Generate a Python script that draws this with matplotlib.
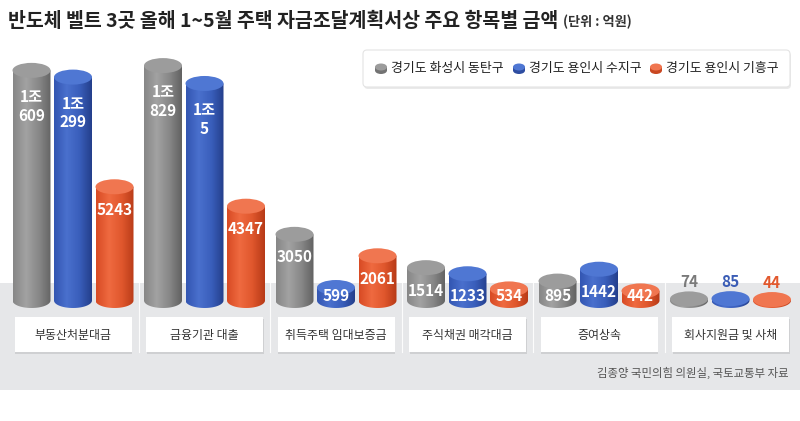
import numpy as np
import matplotlib
matplotlib.use('Agg')
import matplotlib.pyplot as plt
from matplotlib.patches import Ellipse, PathPatch, Rectangle, FancyBboxPatch
from matplotlib.path import Path
from matplotlib.colors import LinearSegmentedColormap

plt.rcParams['font.family'] = ['Noto Sans CJK KR', 'DejaVu Sans']

# data (단위: 억원)
title = '반도체 벨트 3곳 올해 1~5월 주택 자금조달계획서상 주요 항목별 금액'
unit = '(단위 : 억원)'
source = '김종양 국민의힘 의원실, 국토교통부 자료'
categories = ['부동산처분대금', '금융기관 대출', '취득주택 임대보증금',
              '주식채권 매각대금', '증여상속', '회사지원금 및 사채']
series_names = ['경기도 화성시 동탄구', '경기도 용인시 수지구', '경기도 용인시 기흥구']
dongtan = [10609, 10829, 3050, 1514, 895, 74]
suji = [10299, 10005, 599, 1233, 1442, 85]
giheung = [5243, 4347, 2061, 534, 442, 44]
series = [dongtan, suji, giheung]

# layout (pixels)
W, H = 800, 421
PX = 46.1       # 억원 per pixel
BASE = 300.5    # baseline, px from top
GAP = 131.5     # px between group centres
X0 = 73         # first group centre
BAR_W = 38 / GAP
STEP = 41.5 / GAP
ELL_H = 15 * PX

body_cmaps = [
    LinearSegmentedColormap.from_list('g', ['#878787', '#a2a2a2', '#888888', '#626262']),
    LinearSegmentedColormap.from_list('b', ['#3356b2', '#4a70cd', '#3a5fbc', '#243f8c']),
    LinearSegmentedColormap.from_list('o', ['#d84b24', '#ef6a40', '#e0572d', '#b73a17']),
]
top_colors = ['#9c9c9c', '#4f77d3', '#f07650']
label_colors = ['#7a7a7a', '#3a5cb5', '#e2582d']

fig = plt.figure(figsize=(8, 4.21), dpi=100)
fig.patch.set_facecolor('white')

# background layer in pixel coordinates
bg = fig.add_axes([0, 0, 1, 1])
bg.set_xlim(0, W)
bg.set_ylim(H, 0)
bg.axis('off')
bg.add_patch(Rectangle((0, 283), W, 107, facecolor='#e6e7e9', edgecolor='none'))

# title
t = bg.text(8, 21, title, fontsize=14, fontweight='bold', color='#222222', va='center')
fig.canvas.draw()
bb = t.get_window_extent()
bg.text(bb.x1 + 5, 22, unit, fontsize=9.5, fontweight='bold', color='#333333', va='center')

# legend box
bg.add_patch(FancyBboxPatch((364, 52), 427, 37, boxstyle='round,pad=0,rounding_size=4',
                            facecolor='#dcdcdc', edgecolor='none', alpha=0.6))
bg.add_patch(FancyBboxPatch((363, 50), 427, 37, boxstyle='round,pad=0,rounding_size=4',
                            facecolor='white', edgecolor='#e4e4e4', lw=0.8))
leg_x = [381, 519, 656]
for k in range(3):
    c = body_cmaps[k](0.85)
    bg.add_patch(Ellipse((leg_x[k], 70.5), 12, 7, facecolor=c, edgecolor='none'))
    bg.add_patch(Rectangle((leg_x[k] - 6, 67), 12, 3.5, facecolor=c, edgecolor='none'))
    bg.add_patch(Ellipse((leg_x[k], 67), 12, 7, facecolor=top_colors[k], edgecolor='none'))
    bg.text(leg_x[k] + 10, 68.5, series_names[k], fontsize=9.3, color='#222222', va='center')

# source
bg.text(789, 373, source, fontsize=8.2, color='#555555', ha='right', va='center')

# chart layer in data coordinates
ax = fig.add_axes([0, 0, 1, 1])
ax.patch.set_alpha(0)
ax.axis('off')
xlim = (-X0 / GAP, (W - X0) / GAP)
ylim = (-(H - BASE) * PX, BASE * PX)
xt = ax.get_xaxis_transform()

n = len(categories)
# group dividers and category boxes
for i in range(n - 1):
    ax.plot([i + 0.5, i + 0.5], [(H - 352) / H, (H - 283) / H], transform=xt,
            color='white', lw=0.8, alpha=0.9, zorder=1)
for i, cat in enumerate(categories):
    bw = 117 / GAP
    ax.add_patch(Rectangle((i - bw / 2 + 0.6 / GAP, (H - 353.5) / H), bw, 35 / H, transform=xt,
                           facecolor='#cfd0d2', edgecolor='none', zorder=1))
    ax.add_patch(Rectangle((i - bw / 2, (H - 352) / H), bw, 35 / H, transform=xt,
                           facecolor='white', edgecolor='none', zorder=2))
    ax.text(i, (H - 335) / H, cat, transform=xt, fontsize=8.6, color='#333333',
            ha='center', va='center', zorder=3)

grad = np.linspace(0, 1, 64).reshape(1, -1)
theta = np.linspace(np.pi, 2 * np.pi, 40)
for k, vals in enumerate(series):
    for i, v in enumerate(vals):
        xc = i + (k - 1) * STEP
        x0, x1 = xc - BAR_W / 2, xc + BAR_W / 2
        # body: rectangle plus lower half of the base ellipse
        verts = [(x0, v), (x0, 0)]
        verts += list(zip(xc + BAR_W / 2 * np.cos(theta), ELL_H / 2 * np.sin(theta)))
        verts += [(x1, 0), (x1, v), (x0, v)]
        clip = PathPatch(Path(verts), transform=ax.transData, facecolor='none', edgecolor='none')
        ax.add_patch(clip)
        im = ax.imshow(grad, extent=(x0, x1, -ELL_H, v), aspect='auto', cmap=body_cmaps[k],
                       zorder=4, interpolation='bilinear')
        im.set_clip_path(clip)
        # top face
        ax.add_patch(Ellipse((xc, v), BAR_W, ELL_H, facecolor=top_colors[k],
                             edgecolor='none', zorder=5))

        # value labels
        if v >= 10000:
            txt = f'{v // 10000}조\n{v % 10000}'
            ax.text(xc, v - 36 * PX, txt, fontsize=11, fontweight='bold', color='white',
                    ha='center', va='center', linespacing=1.2, zorder=6)
        elif v >= 100:
            ax.text(xc, max(v - 23 * PX, 4.5 * PX), str(v), fontsize=11, fontweight='bold',
                    color='white', ha='center', va='center', zorder=6)
        else:
            ax.text(xc, v + 17 * PX, str(v), fontsize=11, fontweight='bold',
                    color=label_colors[k], ha='center', va='center', zorder=6)

ax.set_xlim(*xlim)
ax.set_ylim(*ylim)

fig.savefig('out.png', dpi=100)
